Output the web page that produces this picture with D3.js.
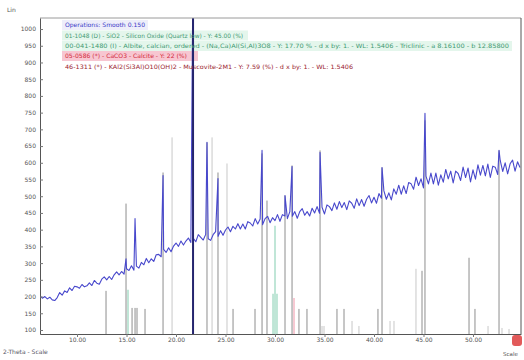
<!DOCTYPE html>
<html><head><meta charset="utf-8">
<script src="https://cdn.jsdelivr.net/npm/d3@7"></script>
<style>
body{margin:0;background:#fff}
svg{display:block;font-family:"DejaVu Sans",sans-serif}
</style>
</head><body>
<svg id="chart" width="524" height="360"></svg>
<script>
// Scan: 2-Theta from 6.25 deg in 0.25 deg steps
const scanStart = 6.25;
const scanStep = 0.25;
const scanCounts = [
  202,195,200,193,198,190,188,197,212,204,217,212,226,218,231,229,225,236,229,232,
  241,233,248,240,237,252,259,250,260,251,265,274,265,275,267,283,278,292,279,291,
  285,302,295,314,301,313,305,325,326,319,341,332,346,334,351,360,350,366,354,366,
  375,362,374,364,385,377,369,386,373,368,385,394,380,397,383,399,408,394,410,402,
  418,402,417,402,424,420,411,433,417,432,415,433,440,421,436,427,445,425,445,441,
  433,454,440,454,434,454,463,443,454,441,464,450,469,449,467,447,474,469,457,480,
  461,484,466,481,460,486,479,464,492,472,490,470,491,502,480,497,479,508,494,516,
  491,510,489,522,506,533,506,531,508,541,537,521,557,532,552,525,560,537,569,537,
  569,533,564,542,580,552,575,540,575,568,547,587,556,584,543,579,551,594,563,592,
  561,596,556,590,587,565,607,574,600,567,597,608,575,603,586
];
// Measured reflection maxima
const peakAngles = [14.95,15.86,18.69,21.72,23.13,24.24,28.69,31.01,31.72,34.55,40.81,45.15,52.63];
const peakCounts = [313,433,562,1200,661,553,637,502,589,631,586,748,637];

// Reference pattern sticks
const sticksGrayAngles = [12.93,14.95,15.56,15.86,16.06,16.87,18.69,23.13,24.24,25.76,27.98,28.69,29.19,31.01,31.72,32.42,33.23,34.55,36.26,36.97,40.40,40.81,44.85,45.15,49.60,50.20,52.63];
const sticksGrayCounts = [217,478,166,166,166,163,571,661,571,163,163,628,487,502,592,163,163,637,163,163,163,586,277,727,316,163,637];
const sticksLightAngles = [19.60,23.64,25.15,34.75,34.95,37.78,38.48,41.62,42.02,44.24,51.52,52.93,53.64];
const sticksLightCounts = [676,676,598,112,112,127,112,127,127,283,112,106,103];
const sticksQuartzAngles = [21.72];
const sticksQuartzCounts = [1033];
const sticksTealAngles = [15.15,29.80,30.00,30.20];
const sticksTealCounts = [220,208,412,208];
const sticksPinkAngles = [31.92];
const sticksPinkCounts = [196];

const xTickValues = [10,15,20,25,30,35,40,45,50];
const yTickValues = [100,150,200,250,300,350,400,450,500,550,600,650,700,750,800,850,900,950,1000];

const legendLines = [
  "Operations: Smooth 0.150",
  "01-1048 (D) - SiO2 - Silicon Oxide (Quartz low) - Y: 45.00 (%)",
  "00-041-1480 (I) - Albite, calcian, ordered - (Na,Ca)Al(Si,Al)3O8 - Y: 17.70 % - d x by: 1. - WL: 1.5406 - Triclinic - a 8.16100 - b 12.85800",
  "05-0586 (*) - CaCO3 - Calcite - Y: 22 (%)",
  "46-1311 (*) - KAl2(Si3Al)O10(OH)2 - Muscovite-2M1 - Y: 7.59 (%) - d x by: 1. - WL: 1.5406"
];

const svg = d3.select("#chart");
const plotL = 40, plotR = 521, plotT = 18, plotB = 334;

const x = d3.scaleLinear().domain([6.26, 54.85]).range([plotL, plotR]);
const y = d3.scaleLinear().domain([88, 1033]).range([plotB, plotT]);

svg.append("defs").append("clipPath").attr("id", "plot")
  .append("rect").attr("x", plotL).attr("y", plotT).attr("width", plotR - plotL).attr("height", plotB - plotT);

// legend backgrounds
const legendY = [25, 35.5, 46, 56, 66.5];
const legendWidths = [80, 178, 444, 122, 288];
const legendFill = ["#3a3ac8", "#3f9a72", "#3f9a72", "#d22a3a", "#9a1e30"];
const legendBg = ["#eeeefa", "#e4f6ec", "#e4f6ec", "#f7c6d1", null];
const bgW = [86, 186, 450, 136, 0];
legendBg.forEach((c, i) => {
  if (!c) return;
  svg.append("rect").attr("x", 62).attr("y", legendY[i] - 5).attr("width", bgW[i]).attr("height", 10).attr("fill", c);
});

// sticks
function sticks(angles, cnts, color, w) {
  svg.append("g").attr("clip-path", "url(#plot)")
    .selectAll("line").data(angles).join("line")
    .attr("x1", d => x(d)).attr("x2", d => x(d))
    .attr("y1", y(88)).attr("y2", (d, i) => y(cnts[i]))
    .attr("stroke", color).attr("stroke-width", w);
}
sticks(sticksLightAngles, sticksLightCounts, "#c8c8c8", 1);
sticks(sticksTealAngles, sticksTealCounts, "#a6dcc6", 1.4);
sticks(sticksPinkAngles, sticksPinkCounts, "#f2a6b6", 1.2);
sticks(sticksGrayAngles, sticksGrayCounts, "#8e8e8e", 1);

// scan line
const pts = scanCounts.map((c, i) => [scanStart + i * scanStep, c])
  .concat(peakAngles.map((a, i) => [a, peakCounts[i]]))
  .sort((a, b) => a[0] - b[0]);
svg.append("path").attr("clip-path", "url(#plot)")
  .datum(pts)
  .attr("fill", "none").attr("stroke", "#4848cc").attr("stroke-width", 1.1)
  .attr("stroke-linejoin", "round")
  .attr("d", d3.line().x(d => x(d[0])).y(d => y(d[1])));

sticks(sticksQuartzAngles, sticksQuartzCounts, "#25256e", 2);

// frame
svg.append("line").attr("x1", plotL).attr("x2", plotR).attr("y1", plotT).attr("y2", plotT).attr("stroke", "#9a9a9a");
svg.append("line").attr("x1", plotR).attr("x2", plotR).attr("y1", plotT).attr("y2", plotB).attr("stroke", "#555");

// axes
const yAxis = svg.append("g").attr("transform", `translate(${plotL},0)`)
  .call(d3.axisLeft(y).tickValues(yTickValues).tickFormat(d3.format("d")).tickSize(-3).tickPadding(4).tickSizeOuter(0));
const xAxis = svg.append("g").attr("transform", `translate(0,${plotB})`)
  .call(d3.axisBottom(x).tickValues(xTickValues).tickFormat(d3.format(".2f")).tickSize(3).tickPadding(1).tickSizeOuter(0));
[yAxis, xAxis].forEach(g => {
  g.selectAll("text").attr("font-size", 6).attr("fill", "#555").attr("font-family", "DejaVu Sans");
  g.selectAll("line").attr("stroke", "#777");
  g.select(".domain").attr("stroke", "#555");
});

// legend text
legendLines.forEach((t, i) => {
  svg.append("text").attr("x", 65).attr("y", legendY[i] + 2.2)
    .attr("font-size", 6).attr("fill", legendFill[i])
    .attr("textLength", legendWidths[i]).attr("lengthAdjust", "spacingAndGlyphs")
    .text(t);
});

// labels
svg.append("text").attr("x", 7).attr("y", 12).attr("font-size", 6).attr("fill", "#555").text("Lin");
svg.append("text").attr("x", 3).attr("y", 354).attr("font-size", 6).attr("fill", "#556").text("2-Theta - Scale");
svg.append("rect").attr("x", 512).attr("y", 335).attr("width", 10).attr("height", 11).attr("rx", 3).attr("fill", "#e25a5a");
svg.append("text").attr("x", 503).attr("y", 356).attr("font-size", 5.5).attr("fill", "#555").text("Scale");
</script>
</body></html>
